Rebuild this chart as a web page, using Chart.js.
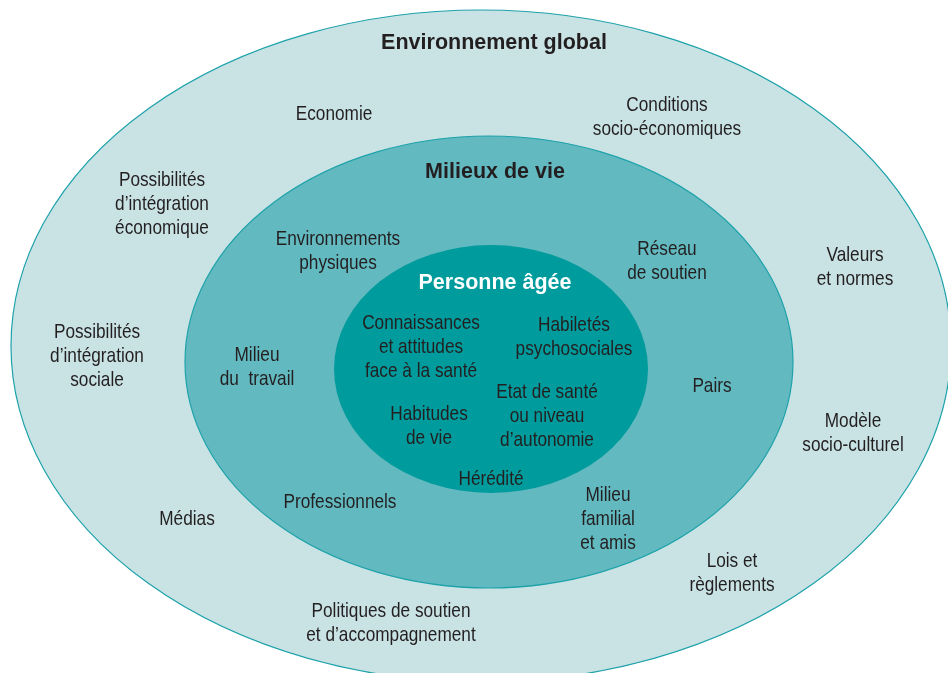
<!DOCTYPE html>
<html lang="fr">
<head>
<meta charset="utf-8">
<title>Personne âgée et environnements</title>
<script src="https://cdn.jsdelivr.net/npm/chart.js"></script>
<style>
  html, body { margin: 0; padding: 0; background: #ffffff; }
  #wrap { width: 948px; height: 673px; }
</style>
</head>
<body>
<div id="wrap"><canvas id="chart" width="948" height="673"></canvas></div>
<script>
// rings, outer to inner (chart units = 948 x 673 plane)
const ringNames = ["Environnement global", "Milieux de vie", "Personne âgée"];
const ringCenterX = [481, 489, 491];
const ringCenterY = [346, 362, 369];
const ringRadiusX = [470, 304, 157];
const ringRadiusY = [336, 226, 124];
const ringTitleX = [494, 495, 495];
const ringTitleY = [42, 171, 282];

// factors placed in the rings
const factorText = [
  "Economie",
  "Conditions\nsocio-économiques",
  "Possibilités\nd’intégration\néconomique",
  "Valeurs\net normes",
  "Possibilités\nd’intégration\nsociale",
  "Modèle\nsocio-culturel",
  "Médias",
  "Lois et\nrèglements",
  "Politiques de soutien\net d’accompagnement",
  "Environnements\nphysiques",
  "Réseau\nde soutien",
  "Milieu\ndu  travail",
  "Pairs",
  "Professionnels",
  "Milieu\nfamilial\net amis",
  "Connaissances\net attitudes\nface à la santé",
  "Habiletés\npsychosociales",
  "Etat de santé\nou niveau\nd’autonomie",
  "Habitudes\nde vie",
  "Hérédité"
];
const factorX = [334, 667, 162, 855, 97, 853, 187, 732, 391, 338, 667, 257, 712, 340, 608, 421, 574, 547, 429, 491];
const factorY = [113, 116, 203, 266, 355, 432, 518, 572, 622, 250, 260, 366, 385, 501, 518, 346, 336, 415, 425, 478];

const ringFill = ["#c9e3e5", "#62b9c0", "#009b9c"];
const ringStroke = "#1ea2aa";

const ringsPlugin = {
  id: "rings",
  beforeDatasetsDraw(chart) {
    const { ctx, scales: { x, y } } = chart;
    ctx.save();
    ringNames.forEach((name, i) => {
      const cx = x.getPixelForValue(ringCenterX[i]);
      const cy = y.getPixelForValue(ringCenterY[i]);
      const rx = Math.abs(x.getPixelForValue(ringCenterX[i] + ringRadiusX[i]) - cx);
      const ry = Math.abs(y.getPixelForValue(ringCenterY[i] + ringRadiusY[i]) - cy);
      ctx.beginPath();
      ctx.ellipse(cx, cy, rx, ry, 0, 0, Math.PI * 2);
      ctx.fillStyle = ringFill[i];
      ctx.fill();
      if (i < 2) {
        ctx.lineWidth = 1.2;
        ctx.strokeStyle = ringStroke;
        ctx.stroke();
      }
    });
    ctx.restore();
  },
  afterDatasetsDraw(chart) {
    const { ctx } = chart;
    ctx.save();
    ctx.textAlign = "center";
    ctx.textBaseline = "middle";
    chart.data.datasets.forEach((ds, di) => {
      const meta = chart.getDatasetMeta(di);
      ctx.font = ds.labelFont;
      meta.data.forEach((pt, i) => {
        ctx.fillStyle = ds.labelColors ? ds.labelColors[i] : "#231f20";
        const lines = ds.labels[i].split("\n");
        const lh = 24;
        const top = pt.y + 1.5 - (lines.length - 1) * lh / 2;
        lines.forEach((ln, k) => {
          // condensed look: squeeze the glyphs horizontally
          ctx.save();
          ctx.translate(pt.x, top + k * lh);
          ctx.scale(ds.squeeze, 1);
          ctx.fillText(ln, 0, 0);
          ctx.restore();
        });
      });
    });
    ctx.restore();
  }
};

new Chart(document.getElementById("chart"), {
  type: "scatter",
  data: {
    datasets: [
      {
        label: "Anneaux",
        data: ringNames.map((n, i) => ({ x: ringTitleX[i], y: ringTitleY[i] })),
        labels: ringNames,
        labelFont: "bold 21.5px 'Liberation Sans', Arial, sans-serif",
        labelColors: ["#231f20", "#231f20", "#ffffff"],
        squeeze: 1,
        pointRadius: 0
      },
      {
        label: "Facteurs",
        data: factorText.map((t, i) => ({ x: factorX[i], y: factorY[i] })),
        labels: factorText,
        labelFont: "21px 'Liberation Sans', Arial, sans-serif",
        squeeze: 0.82,
        pointRadius: 0
      }
    ]
  },
  options: {
    responsive: false,
    animation: false,
    events: [],
    layout: { padding: 0 },
    plugins: { legend: { display: false }, tooltip: { enabled: false } },
    scales: {
      x: { type: "linear", min: 0, max: 948, display: false },
      y: { type: "linear", min: 0, max: 673, reverse: true, display: false }
    }
  },
  plugins: [ringsPlugin]
});
</script>
</body>
</html>
